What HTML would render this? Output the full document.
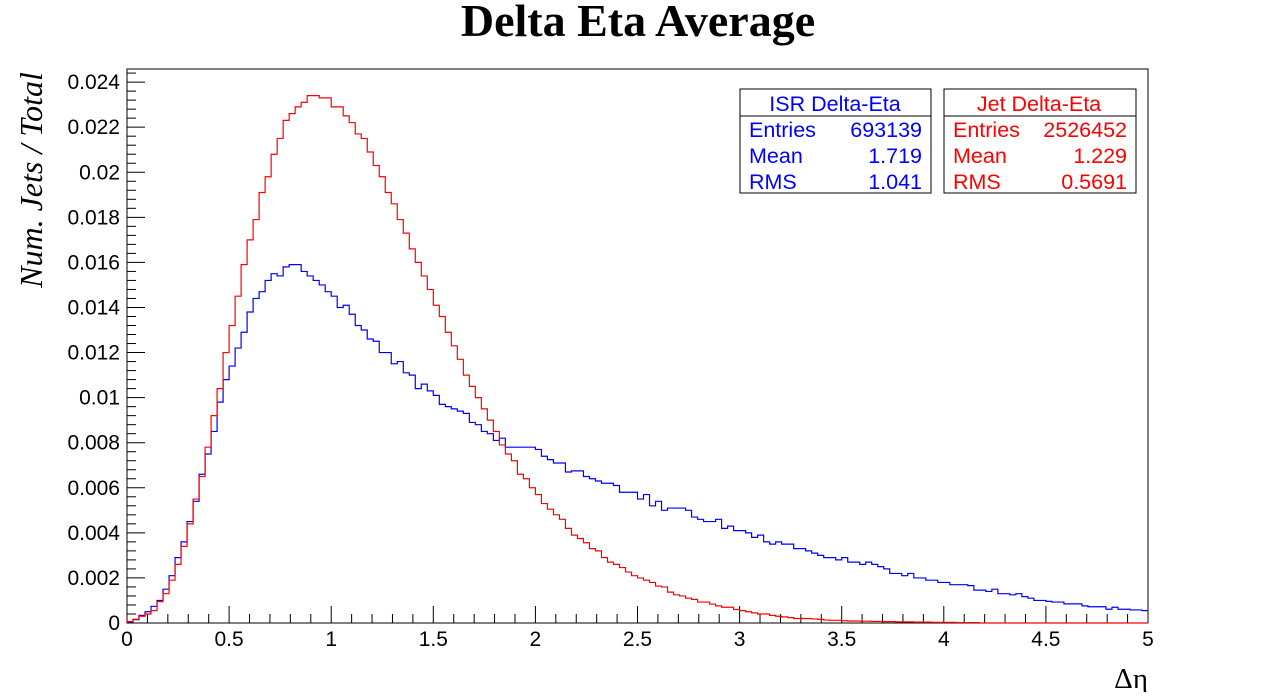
<!DOCTYPE html>
<html><head><meta charset="utf-8"><style>
html,body{margin:0;padding:0;background:#fff;}
svg text{font-family:"Liberation Sans",sans-serif;}
</style></head><body>
<svg id="chart" width="1276" height="692" viewBox="0 0 1276 692" xmlns="http://www.w3.org/2000/svg">
<rect x="0" y="0" width="1276" height="692" fill="#fff"/>
<text x="638" y="36" text-anchor="middle" style="font-family:'Liberation Serif',serif;font-weight:bold;font-size:46px">Delta Eta Average</text>
<rect x="127" y="69" width="1021" height="554" fill="none" stroke="#000" stroke-width="1"/>
<g id="yticks"></g>
<g id="xticks"></g>
<path id="blueLine" fill="none" stroke="#0000ff" stroke-width="1.2"/>
<path id="redLine" fill="none" stroke="#ff0000" stroke-width="1.2"/>
<text x="1148" y="688" text-anchor="end" style="font-family:'Liberation Serif',serif;font-size:29px">Δη</text>
<text transform="translate(42,180) rotate(-90)" text-anchor="middle" style="font-family:'Liberation Serif',serif;font-style:italic;font-size:32px">Num. Jets / Total</text>
<g>
<rect x="740" y="89" width="191" height="104" fill="#fff" stroke="#000" stroke-width="1"/>
<line x1="740" y1="116" x2="931" y2="116" stroke="#000"/>
<text x="835" y="111" text-anchor="middle" fill="#0000ff" font-size="21.5">ISR Delta-Eta</text>
<text x="749" y="137" fill="#0000ff" font-size="21.5">Entries</text><text x="922" y="137" text-anchor="end" fill="#0000ff" font-size="21.5">693139</text>
<text x="749" y="163" fill="#0000ff" font-size="21.5">Mean</text><text x="922" y="163" text-anchor="end" fill="#0000ff" font-size="21.5">1.719</text>
<text x="749" y="189" fill="#0000ff" font-size="21.5">RMS</text><text x="922" y="189" text-anchor="end" fill="#0000ff" font-size="21.5">1.041</text>
</g>
<g>
<rect x="944" y="89" width="192" height="104" fill="#fff" stroke="#000" stroke-width="1"/>
<line x1="944" y1="116" x2="1136" y2="116" stroke="#000"/>
<text x="1039" y="111" text-anchor="middle" fill="#ff0000" font-size="21.5">Jet Delta-Eta</text>
<text x="953" y="137" fill="#ff0000" font-size="21.5">Entries</text><text x="1127" y="137" text-anchor="end" fill="#ff0000" font-size="21.5">2526452</text>
<text x="953" y="163" fill="#ff0000" font-size="21.5">Mean</text><text x="1127" y="163" text-anchor="end" fill="#ff0000" font-size="21.5">1.229</text>
<text x="953" y="189" fill="#ff0000" font-size="21.5">RMS</text><text x="1127" y="189" text-anchor="end" fill="#ff0000" font-size="21.5">0.5691</text>
</g>
</svg>
<script>
const xTickLabels = ["0","0.5","1","1.5","2","2.5","3","3.5","4","4.5","5"];
const yTickLabels = ["0","0.002","0.004","0.006","0.008","0.01","0.012","0.014","0.016","0.018","0.02","0.022","0.024"];
const binCount = 170;
const xMin = 0, xMax = 5;
const isrValues = [0.00005,0.00015,0.00034,0.0005,0.00074,0.001,0.0015,0.0021,0.0029,0.0036,
0.0045,0.0054,0.0066,0.0075,0.0085,0.0098,0.0108,0.0114,0.0122,0.0129,
0.0138,0.0144,0.0147,0.0152,0.0155,0.0154,0.0158,0.0159,0.0159,0.0156,
0.0154,0.0152,0.0150,0.0147,0.0145,0.0140,0.0141,0.0137,0.0132,0.0130,
0.0126,0.0125,0.0120,0.0120,0.0115,0.0116,0.0111,0.0110,0.0104,0.0106,
0.0103,0.0101,0.0097,0.0096,0.0095,0.0094,0.0093,0.0089,0.0088,0.0085,
0.0084,0.0081,0.0082,0.0078,0.0078,0.0078,0.0078,0.0078,0.0077,
0.0074,0.00725,0.0071,0.0071,0.0067,0.00675,0.00675,0.0065,0.0064,0.0063,0.0062,
0.0062,0.0061,0.0058,0.0058,0.0058,0.0055,0.0057,0.0052,0.0054,0.0050,
0.0051,0.0051,0.0051,0.0050,0.0047,0.0046,0.0045,0.0045,0.0046,0.0042,
0.0043,0.0041,0.0041,0.0040,0.0038,0.0039,0.0036,0.0035,0.0036,0.0035,
0.0035,0.0033,0.0033,0.0032,0.0031,0.0030,0.0029,0.0029,0.0028,0.0029,
0.0027,0.0027,0.0026,0.0027,0.0026,0.0025,0.0024,0.0022,0.0022,0.0021,
0.0022,0.0020,0.0020,0.0019,0.0019,0.0018,0.0018,0.0017,0.0017,0.0017,
0.00166,0.00146,0.00146,0.0014,0.0015,0.0013,0.0013,0.00125,0.0013,0.00117,
0.0011,0.0010,0.0010,0.00096,0.00093,0.00093,0.00085,0.00085,0.00085,0.00076,
0.00072,0.00072,0.00072,0.00061,0.0007,0.00061,0.00061,0.00058,0.00058,0.00055];
const jetValues = [0.00006,0.00017,0.0003,0.0004,0.00055,0.00095,0.0013,0.0019,0.0026,0.0034,
0.0044,0.0055,0.0065,0.0078,0.0092,0.0104,0.0120,0.0132,0.0145,0.0159,
0.0170,0.0179,0.0191,0.0198,0.0208,0.0215,0.0223,0.0226,0.0229,0.0231,
0.0234,0.0234,0.0233,0.0233,0.0229,0.0229,0.0225,0.0222,0.0217,0.0215,
0.0209,0.0203,0.0198,0.0191,0.0186,0.0179,0.0173,0.0166,0.0160,0.0154,
0.0148,0.0141,0.0136,0.0129,0.0123,0.0117,0.0110,0.0105,0.0100,0.0095,
0.0090,0.0085,0.0079,0.0075,0.0072,0.0066,0.0064,0.0060,0.0057,0.0053,
0.00505,0.0048,0.0046,0.0042,0.0039,0.00375,0.00356,0.0033,0.0032,0.0029,
0.0027,0.0026,0.00246,0.00226,0.0021,0.0020,0.0019,0.0018,0.00164,0.0016,
0.00137,0.00125,0.0012,0.0011,0.00105,0.00093,0.00093,0.00084,0.00076,0.0007,
0.0007,0.0006,0.00055,0.0005,0.00045,0.0004,0.0004,0.00034,0.0003,0.00027,
0.00024,0.0002,0.0002,0.0002,0.00018,0.00016,0.00013,0.00012,0.00012,0.0001,
0.00009,0.00009,0.00008,0.00008,0.00007,0.00007,0.00006,0.00006,0.00005,0.00005,
0.00005,0.00004,0.00004,0.00004,0.00003,0.00003,0.00003,0.00003,0.00002,0.00002,
0.00002,0.00002];

const X0=127, X1=1148, Y0=623, YTOP=82.1, YMAXV=0.024, FRAME_TOP=69;
function xScale(v){return X0+(v-xMin)/(xMax-xMin)*(X1-X0);}
function yScale(v){return Y0-(v/YMAXV)*(Y0-YTOP);}
const NS="http://www.w3.org/2000/svg";

const yg=document.getElementById('yticks');
for(let i=0;i<yTickLabels.length;i++){
  const v=parseFloat(yTickLabels[i]);
  const y=yScale(v);
  const l=document.createElementNS(NS,'line');
  l.setAttribute('x1',X0);l.setAttribute('x2',X0+18);l.setAttribute('y1',y);l.setAttribute('y2',y);l.setAttribute('stroke','#000');
  
  
  yg.appendChild(l);
  const t=document.createElementNS(NS,'text');
  t.setAttribute('x',X0-7);t.setAttribute('y',y+7);t.setAttribute('text-anchor','end');t.setAttribute('font-size','21');
  t.textContent=yTickLabels[i];
  
  
  yg.appendChild(t);
  for(let k=1;k<5;k++){
    const ym=yScale(v+k*0.0004);
    if(ym<FRAME_TOP+1) break;
    const m=document.createElementNS(NS,'line');
    m.setAttribute('x1',X0);m.setAttribute('x2',X0+9);m.setAttribute('y1',ym);m.setAttribute('y2',ym);m.setAttribute('stroke','#000');
    
    
    yg.appendChild(m);
  }
}
const xg=document.getElementById('xticks');
for(let i=0;i<xTickLabels.length;i++){
  const v=parseFloat(xTickLabels[i]);
  const x=xScale(v);
  const l=document.createElementNS(NS,'line');
  l.setAttribute('x1',x);l.setAttribute('x2',x);l.setAttribute('y1',Y0);l.setAttribute('y2',Y0-17);l.setAttribute('stroke','#000');
  
  
  xg.appendChild(l);
  const t=document.createElementNS(NS,'text');
  t.setAttribute('x',x);t.setAttribute('y',Y0+23);t.setAttribute('text-anchor','middle');t.setAttribute('font-size','21');
  t.textContent=xTickLabels[i];
  
  
  xg.appendChild(t);
  if(i<xTickLabels.length-1){
    for(let k=1;k<5;k++){
      const xm=xScale(v+k*0.1);
      const m=document.createElementNS(NS,'line');
      m.setAttribute('x1',xm);m.setAttribute('x2',xm);m.setAttribute('y1',Y0);m.setAttribute('y2',Y0-9);m.setAttribute('stroke','#000');
      
      
      xg.appendChild(m);
    }
  }
}
function stepPath(vals){
  const w=(xMax-xMin)/binCount;
  let d='M'+xScale(xMin)+','+yScale(0);
  for(let i=0;i<binCount;i++){
    const v=i<vals.length?vals[i]:0;
    const y=yScale(v);
    d+=' L'+xScale(xMin+i*w).toFixed(2)+','+y.toFixed(2)+' L'+xScale(xMin+(i+1)*w).toFixed(2)+','+y.toFixed(2);
  }
  return d;
}
document.getElementById('blueLine').setAttribute('d',stepPath(isrValues));
document.getElementById('redLine').setAttribute('d',stepPath(jetValues));
</script>
</body></html>
